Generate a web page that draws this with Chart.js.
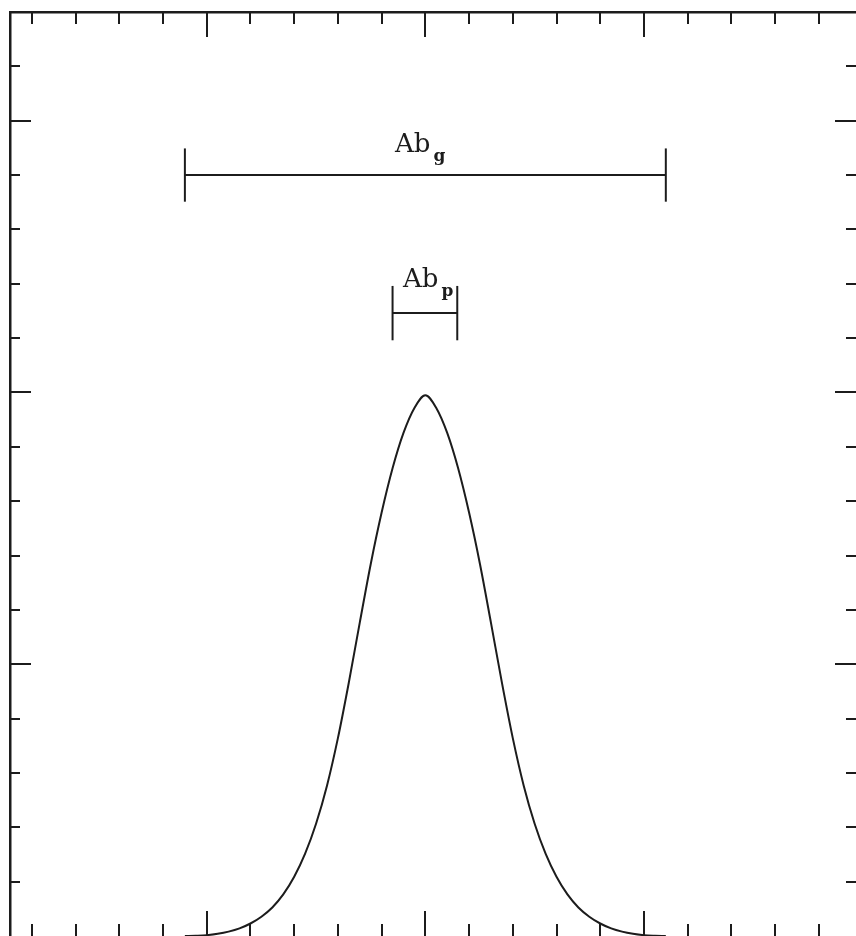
<!DOCTYPE html>
<html>
<head>
<meta charset="utf-8">
<script src="https://cdn.jsdelivr.net/npm/chart.js@4/dist/chart.umd.min.js"></script>
<style>
  html, body { margin: 0; padding: 0; background: #fff; overflow: hidden; }
  #wrap { position: relative; width: 856px; height: 936px; }
</style>
</head>
<body>
<div id="wrap"><canvas id="chart"></canvas></div>
<script>
// abundance profile (x relative to the peak)
const profX = [-1.1, -1.05, -1.0, -0.95, -0.9, -0.85, -0.8, -0.75, -0.7, -0.65, -0.6, -0.55, -0.5, -0.45, -0.4, -0.35, -0.3, -0.25, -0.2, -0.15, -0.1, -0.05,
               0, 0.05, 0.1, 0.15, 0.2, 0.25, 0.3, 0.35, 0.4, 0.45, 0.5, 0.55, 0.6, 0.65, 0.7, 0.75, 0.8, 0.85, 0.9, 0.95, 1.0, 1.05, 1.1];
const profY = [0, 0.001, 0.003, 0.008, 0.016, 0.028, 0.046, 0.071, 0.105, 0.153, 0.218, 0.303, 0.413, 0.553, 0.728, 0.933, 1.153, 1.368, 1.558, 1.721, 1.851, 1.943,
               1.99, 1.943, 1.851, 1.721, 1.558, 1.368, 1.153, 0.933, 0.728, 0.553, 0.413, 0.303, 0.218, 0.153, 0.105, 0.071, 0.046, 0.028, 0.016, 0.008, 0.003, 0.001, 0];

// the two range bars (Ab_g, Ab_p)
const rangeMain = ['Ab', 'Ab'];
const rangeSub  = ['g', 'p'];
const rangeLo   = [-1.10, -0.15];
const rangeHi   = [1.10, 0.146];
const rangeY    = [2.80, 2.292];
const rangeCap  = [0.098, 0.10];
const labelX    = [-0.139, -0.102];
const labelY    = [2.884, 2.388];

// tick marks (no labels on this plot)
const xTickVals = [-1.8, -1.6, -1.4, -1.2, -1.0, -0.8, -0.6, -0.4, -0.2, 0, 0.2, 0.4, 0.6, 0.8, 1.0, 1.2, 1.4, 1.6, 1.8];
const xMajor    = [-1.0, 0, 1.0];
const yTickVals = [0.2, 0.4, 0.6, 0.8, 1.0, 1.2, 1.4, 1.6, 1.8, 2.0, 2.2, 2.4, 2.6, 2.8, 3.0, 3.2];
const yMajor    = [1.0, 2.0, 3.0];

const INK = '#1c1c1c';

const datasets = [{
  data: profX.map((x, i) => ({ x, y: profY[i] })),
  borderColor: INK, borderWidth: 2, pointRadius: 0,
  cubicInterpolationMode: 'monotone', fill: false,
}];
rangeLo.forEach((lo, i) => {
  const hi = rangeHi[i], y = rangeY[i], c = rangeCap[i];
  datasets.push({ data: [{ x: lo, y }, { x: hi, y }], borderColor: INK, borderWidth: 2, pointRadius: 0 });
  datasets.push({ data: [{ x: lo, y: y - c }, { x: lo, y: y + c }], borderColor: INK, borderWidth: 2, pointRadius: 0 });
  datasets.push({ data: [{ x: hi, y: y - c }, { x: hi, y: y + c }], borderColor: INK, borderWidth: 2, pointRadius: 0 });
});

// inward ticks on all four sides + the subscripted labels
const frameTicks = {
  id: 'frameTicks',
  afterDraw(chart) {
    const { ctx, chartArea: a } = chart;
    const xs = chart.scales.x, ys = chart.scales.y;
    const isMaj = (v, list) => list.some(m => Math.abs(m - v) < 1e-6);
    ctx.save();
    ctx.strokeStyle = INK;
    ctx.lineWidth = 2;
    ctx.beginPath();
    xTickVals.forEach(v => {
      const px = Math.round(xs.getPixelForValue(v));
      const len = isMaj(v, xMajor) ? 25 : 12;
      ctx.moveTo(px, a.top); ctx.lineTo(px, a.top + len);
      ctx.moveTo(px, a.bottom); ctx.lineTo(px, a.bottom - len);
    });
    yTickVals.forEach(v => {
      const py = Math.round(ys.getPixelForValue(v));
      const len = isMaj(v, yMajor) ? 21 : 10;
      ctx.moveTo(a.left, py); ctx.lineTo(a.left + len, py);
      ctx.moveTo(a.right, py); ctx.lineTo(a.right - len, py);
    });
    ctx.stroke();

    ctx.fillStyle = INK;
    ctx.textBaseline = 'alphabetic';
    ctx.textAlign = 'left';
    rangeMain.forEach((t, i) => {
      const px = xs.getPixelForValue(labelX[i]);
      const py = ys.getPixelForValue(labelY[i]);
      ctx.font = '26px "DejaVu Serif"';
      ctx.fillText(t, px, py);
      const w = ctx.measureText(t).width;
      ctx.font = 'bold 17px "DejaVu Serif"';
      ctx.fillText(rangeSub[i], px + w + 3, py + 9);
    });
    ctx.restore();
  }
};

const axisBase = (pos, showBorder, min, max) => ({
  type: 'linear', position: pos, min, max,
  ticks: { display: false },
  grid: { display: true, drawOnChartArea: false, drawTicks: false },
  border: { display: showBorder, color: INK, width: 2.5 },
});

new Chart(document.getElementById('chart'), {
  type: 'line',
  data: { datasets },
  options: {
    responsive: true,
    maintainAspectRatio: false,
    animation: false,
    layout: { padding: { left: 10, top: 12, right: 0, bottom: 0 } },
    plugins: { legend: { display: false }, tooltip: { enabled: false } },
    scales: {
      x:  axisBase('bottom', false, -1.9, 1.97),
      x2: axisBase('top', true, -1.9, 1.97),
      y:  axisBase('left', true, 0, 3.4),
      y2: axisBase('right', false, 0, 3.4),
    },
  },
  plugins: [frameTicks],
});
</script>
</body>
</html>
